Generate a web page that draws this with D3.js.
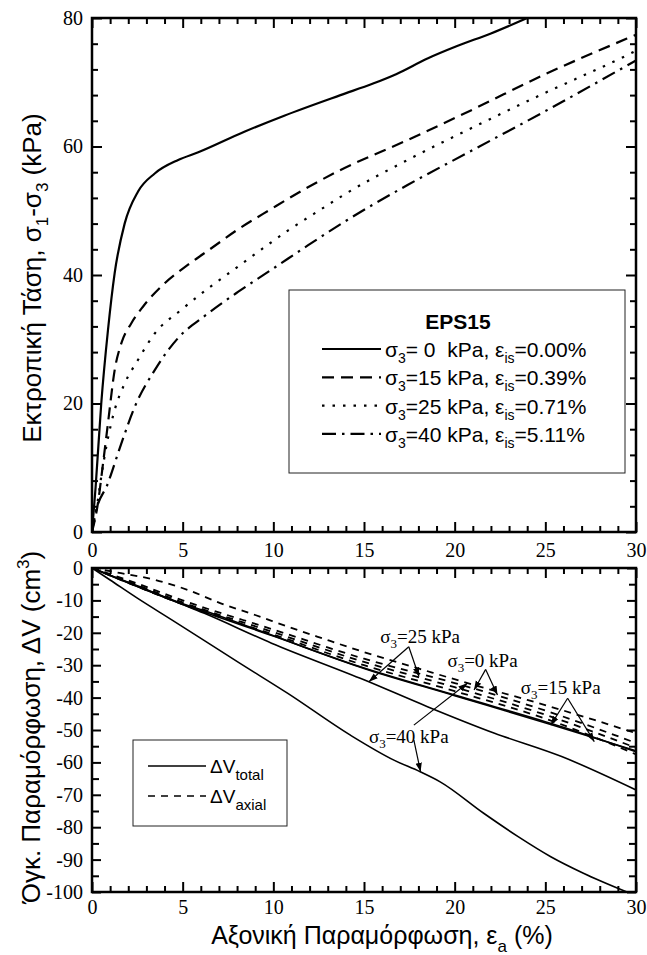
<!DOCTYPE html>
<html>
<head>
<meta charset="utf-8">
<script src="https://cdn.jsdelivr.net/npm/d3@7/dist/d3.min.js"></script>
<style>
  body { margin: 0; background: #fff; }
  svg { display: block; }
</style>
</head>
<body>
<div id="chart"></div>
<script>
// Δεδομένα - άνω διάγραμμα (τάση - παραμόρφωση)
let strain0  = [0, 0.2, 0.51, 0.88, 1.25, 1.8, 2.54, 3.46, 4.75, 5.86, 8.4, 10.6, 13.7, 15.5, 16.8, 18.5, 20.1, 22.0, 24.0]
let stress0  = [0, 7, 20, 31.4, 40.3, 48, 53, 55.8, 57.9, 59.1, 62.3, 64.8, 68.0, 69.8, 71.3, 73.7, 75.6, 77.6, 80]
let strain15 = [0, 0.3, 0.61, 0.88, 1.25, 1.62, 2.17, 2.82, 4.0, 5.3, 6.6, 8.0, 9.9, 11.75, 13.6, 17.4, 21.1, 24.8, 29.5, 30]
let stress15 = [0, 4, 10.7, 16.9, 25.2, 29.4, 32.5, 35.1, 38.7, 41.6, 44.2, 47.0, 50.3, 53.4, 56.2, 61.0, 65.9, 71.0, 76.8, 77.4]
let strain25 = [0, 0.3, 0.51, 0.79, 1.25, 1.8, 2.54, 3.46, 4.93, 6.4, 7.9, 9.35, 10.8, 12.67, 13.96, 17.4, 21.1, 24.8, 29.5, 30]
let stress25 = [0, 4.5, 8.6, 13.3, 19, 23.1, 26.8, 30.9, 34.6, 37.9, 41.0, 44.0, 46.9, 50.3, 52.6, 57.9, 63.1, 68.1, 74.2, 74.9]
let strain40 = [0, 0.15, 0.88, 1.62, 2.36, 3.46, 4.75, 6.2, 8.07, 10.1, 11.9, 14.1, 17.4, 21.1, 24.8, 29.5, 30]
let stress40 = [0, 2.4, 7.6, 13.8, 19.5, 25.2, 30.2, 33.6, 37.4, 41.2, 44.6, 48.6, 54.0, 59.6, 65.2, 72.6, 73.4]

// Δεδομένα - κάτω διάγραμμα (ογκομετρική παραμόρφωση)
let tot0x  = [0, 1, 2.5, 5, 6.2, 9.9, 14.8, 20.3, 25.9, 30]
let tot0y  = [0, -2.2, -5.5, -11, -13.2, -20.7, -30.5, -39.7, -49, -56.7]
let tot15x = [0, 1, 2.5, 5, 10, 15, 20, 25.3, 30]
let tot15y = [0, -2.3, -5.7, -11.2, -21, -31, -39.4, -48.3, -56.4]
let tot25x = [0, 1, 2.54, 6.2, 9.9, 15, 18.5, 22.2, 25.9, 30]
let tot25y = [0, -2.3, -5.8, -14, -23.2, -34.5, -42.8, -51, -58.2, -68.5]
let tot40x = [0, 1, 2.5, 4.4, 6.2, 8.1, 10.8, 14.25, 16.65, 18.1, 19.2, 21.6, 23.5, 25.3, 27.1, 29.5]
let tot40y = [0, -3.7, -9.3, -16.0, -22.4, -29.2, -38.7, -51.6, -59.3, -62.9, -66, -75.7, -82.9, -89.1, -94.2, -100]

let axTopX = [0, 1.6, 3.5, 5.3, 7.1, 9, 10.8, 12.7, 14.8, 18, 21, 24, 27.7, 30]
let axTopY = [0, -1.6, -3.7, -6.8, -10.9, -14.5, -18.1, -21.7, -25.6, -31, -36, -40.7, -46.9, -51]
let axX  = [0, 2, 5, 10, 15, 20, 25, 30]
let ax0y  = [0, -3.8, -10, -19, -28, -35.5, -44, -54]
let ax25y = [0, -4.2, -10.6, -19.8, -29, -36.8, -45.3, -55.5]
let ax40y = [0, -4.6, -11.2, -20.5, -30, -38, -46.5, -57.5]

// Ετικέτες
let xTicks = [0, 5, 10, 15, 20, 25, 30]
let stressTicks = [0, 20, 40, 60, 80]
let dvTicks = [0, -10, -20, -30, -40, -50, -60, -70, -80, -90, -100]
let legendRows = [
  { s: "= 0  kPa, ε", e: "=0.00%" },
  { s: "=15 kPa, ε", e: "=0.39%" },
  { s: "=25 kPa, ε", e: "=0.71%" },
  { s: "=40 kPa, ε", e: "=5.11%" }
]
// σημειώσεις: θέση κειμένου και βέλη σε μονάδες δεδομένων
let notes = [
  { t: "=25 kPa", x: 15.9, y: -23.1, from: [17.47, -24.3], to: [[15.27, -35.1], [18.03, -33.5]] },
  { t: "=0 kPa", x: 19.6, y: -30.6, from: [21.71, -31.3], to: [[21.07, -37.65], [22.36, -39.2]] },
  { t: "=15 kPa", x: 23.65, y: -39.0, from: [26.23, -40.2], to: [[25.3, -48.5], [27.7, -53.6]] },
  { t: "=40 kPa", x: 15.27, y: -54.1, from: [17.75, -48.5], to: [[20.7, -35.6]] },
  { t: "", x: 0, y: 0, from: [17.75, -53.1], to: [[18.12, -62.9]] }
]

let W = 647, H = 955
let left = 92, right = 636
let serif = "'Liberation Serif', 'Times New Roman', serif"
let sans = "'Liberation Sans', Arial, sans-serif"

let svg = d3.select("#chart").append("svg")
  .attr("width", W).attr("height", H)

let x = d3.scaleLinear().domain([0, 30]).range([left, right])
let yTop = d3.scaleLinear().domain([0, 80]).range([532, 18])
let yBot = d3.scaleLinear().domain([-100, 0]).range([892, 568])

let defs = svg.append("defs")
defs.append("marker")
  .attr("id", "arrow")
  .attr("viewBox", "0 0 10 10")
  .attr("refX", 10).attr("refY", 5)
  .attr("markerWidth", 9).attr("markerHeight", 9)
  .attr("markerUnits", "userSpaceOnUse")
  .attr("orient", "auto")
  .append("path").attr("d", "M0,1.5 L10,5 L0,8.5 Z").attr("fill", "#000")

defs.append("clipPath").attr("id", "clipTop").append("rect")
  .attr("x", left).attr("y", 18).attr("width", right - left).attr("height", 514)
defs.append("clipPath").attr("id", "clipBot").append("rect")
  .attr("x", left).attr("y", 568).attr("width", right - left).attr("height", 324)

// άξονες με εσωτερικές υποδιαιρέσεις
function drawAxes(y, top, bottom, major, minor, labelX, tickLen) {
  let minorX = d3.range(0, 31).filter(d => d % 5 !== 0)
  let g = svg.append("g")
  let style = sel => {
    sel.attr("font-family", serif).attr("font-size", 20)
    sel.select(".domain").remove()
    sel.selectAll("line").attr("stroke", "#000").attr("stroke-width", 2)
    sel.selectAll("text").style("font-family", serif).style("font-size", "20px").attr("fill", "#000")
  }
  // κάτω
  g.append("g").attr("transform", `translate(0,${bottom})`)
    .call(d3.axisBottom(x).tickValues(xTicks).tickSize(-10).tickPadding(labelX)
      .tickFormat(d => d)).call(style)
  g.append("g").attr("transform", `translate(0,${bottom})`)
    .call(d3.axisBottom(x).tickValues(minorX).tickSize(-6).tickFormat("")).call(style)
  // πάνω
  g.append("g").attr("transform", `translate(0,${top})`)
    .call(d3.axisTop(x).tickValues(xTicks).tickSize(-10).tickFormat("")).call(style)
  g.append("g").attr("transform", `translate(0,${top})`)
    .call(d3.axisTop(x).tickValues(minorX).tickSize(-6).tickFormat("")).call(style)
  // αριστερά
  g.append("g").attr("transform", `translate(${left},0)`)
    .call(d3.axisLeft(y).tickValues(major).tickSize(-tickLen[0]).tickPadding(9)
      .tickFormat(d => String(d))).call(style)
  g.append("g").attr("transform", `translate(${left},0)`)
    .call(d3.axisLeft(y).tickValues(minor).tickSize(-tickLen[1]).tickFormat("")).call(style)
  // δεξιά
  g.append("g").attr("transform", `translate(${right},0)`)
    .call(d3.axisRight(y).tickValues(major).tickSize(-tickLen[0]).tickFormat("")).call(style)
  g.append("g").attr("transform", `translate(${right},0)`)
    .call(d3.axisRight(y).tickValues(minor).tickSize(-tickLen[1]).tickFormat("")).call(style)
  g.append("rect")
    .attr("x", left).attr("y", top).attr("width", right - left).attr("height", bottom - top)
    .attr("fill", "none").attr("stroke", "#000").attr("stroke-width", 2.5)
}

drawAxes(yTop, 18, 532, stressTicks, d3.range(0, 81, 4).filter(d => d % 20 !== 0), 11, [10, 6])
drawAxes(yBot, 568, 892, dvTicks, d3.range(-95, 0, 10), 8, [9, 7])

// καμπύλες
let zip = (xs, ys) => xs.map((d, i) => [d, ys[i]])
let lineTop = d3.line().x(d => x(d[0])).y(d => yTop(d[1])).curve(d3.curveMonotoneX)
let lineBot = d3.line().x(d => x(d[0])).y(d => yBot(d[1])).curve(d3.curveMonotoneX)

let topSeries = [
  { d: zip(strain0, stress0), dash: null },
  { d: zip(strain15, stress15), dash: "12,7" },
  { d: zip(strain25, stress25), dash: "2.5,8" },
  { d: zip(strain40, stress40), dash: "14,6,2.5,6" }
]
svg.append("g").attr("clip-path", "url(#clipTop)")
  .selectAll("path").data(topSeries).enter().append("path")
  .attr("d", s => lineTop(s.d))
  .attr("fill", "none").attr("stroke", "#000").attr("stroke-width", 2.2)
  .attr("stroke-dasharray", s => s.dash)

let botSolid = [zip(tot0x, tot0y), zip(tot15x, tot15y), zip(tot25x, tot25y), zip(tot40x, tot40y)]
let botDash = [zip(axTopX, axTopY), zip(axX, ax0y), zip(axX, ax25y), zip(axX, ax40y)]
let gb = svg.append("g").attr("clip-path", "url(#clipBot)")
gb.selectAll(".tot").data(botSolid).enter().append("path")
  .attr("class", "tot")
  .attr("d", lineBot)
  .attr("fill", "none").attr("stroke", "#000").attr("stroke-width", 1.6)
gb.selectAll(".ax").data(botDash).enter().append("path")
  .attr("class", "ax")
  .attr("d", lineBot)
  .attr("fill", "none").attr("stroke", "#000").attr("stroke-width", 1.8)
  .attr("stroke-dasharray", "7,6")

// σημειώσεις στο κάτω διάγραμμα
notes.forEach(n => {
  if (n.t) {
    let t = svg.append("text")
      .attr("x", x(n.x)).attr("y", yBot(n.y))
      .attr("font-family", serif).attr("font-size", 19)
    t.append("tspan").text("σ")
    t.append("tspan").attr("font-size", 13).attr("dy", 5).text("3")
    t.append("tspan").attr("dy", -5).text(n.t)
  }
  n.to.forEach(p => {
    svg.append("line")
      .attr("x1", x(n.from[0])).attr("y1", yBot(n.from[1]))
      .attr("x2", x(p[0])).attr("y2", yBot(p[1]))
      .attr("stroke", "#000").attr("stroke-width", 1.2)
      .attr("marker-end", "url(#arrow)")
  })
})

// υπόμνημα άνω διαγράμματος
let lg = svg.append("g")
lg.append("rect").attr("x", 289).attr("y", 290).attr("width", 336).attr("height", 183)
  .attr("fill", "#fff").attr("stroke", "#222").attr("stroke-width", 1)
lg.append("text").attr("x", 458).attr("y", 329).attr("text-anchor", "middle")
  .attr("font-family", sans).attr("font-size", 21).attr("font-weight", "bold").text("EPS15")
legendRows.forEach((r, i) => {
  let yy = 357 + i * 28.3
  lg.append("line").attr("x1", 322).attr("x2", 381).attr("y1", yy - 8).attr("y2", yy - 8)
    .attr("stroke", "#000").attr("stroke-width", 2.2)
    .attr("stroke-dasharray", topSeries[i].dash)
  let t = lg.append("text").attr("x", 385).attr("y", yy)
    .attr("font-family", sans).attr("font-size", 21).style("white-space", "pre")
  t.append("tspan").text("σ")
  t.append("tspan").attr("font-size", 14).attr("dy", 6).text("3")
  t.append("tspan").attr("dy", -6).text(r.s)
  t.append("tspan").attr("font-size", 14).attr("dy", 6).text("is")
  t.append("tspan").attr("dy", -6).text(r.e)
})

// υπόμνημα κάτω διαγράμματος
let lg2 = svg.append("g")
lg2.append("rect").attr("x", 133).attr("y", 740).attr("width", 154).attr("height", 86)
  .attr("fill", "#fff").attr("stroke", "#222").attr("stroke-width", 1)
let lg2Rows = [{ sub: "total", dash: null }, { sub: "axial", dash: "7,6" }]
lg2Rows.forEach((r, i) => {
  let yy = 773 + i * 30
  lg2.append("line").attr("x1", 148).attr("x2", 206).attr("y1", yy - 7).attr("y2", yy - 7)
    .attr("stroke", "#000").attr("stroke-width", 1.6).attr("stroke-dasharray", r.dash)
  let t = lg2.append("text").attr("x", 210).attr("y", yy)
    .attr("font-family", sans).attr("font-size", 19)
  t.append("tspan").text("ΔV")
  t.append("tspan").attr("font-size", 15).attr("dy", 7).text(r.sub)
})

// τίτλοι αξόνων
let yt1 = svg.append("text").attr("transform", "translate(41,278) rotate(-90)")
  .attr("text-anchor", "middle").attr("font-family", sans).attr("font-size", 26)
yt1.append("tspan").text("Εκτροπική Τάση, σ")
yt1.append("tspan").attr("font-size", 17).attr("dy", 7).text("1")
yt1.append("tspan").attr("dy", -7).text("-σ")
yt1.append("tspan").attr("font-size", 17).attr("dy", 7).text("3")
yt1.append("tspan").attr("dy", -7).text(" (kPa)")

let yt2 = svg.append("text").attr("transform", "translate(40,727) rotate(-90)")
  .attr("text-anchor", "middle").attr("font-family", sans).attr("font-size", 26)
yt2.append("tspan").text("Όγκ. Παραμόρφωση, ΔV (cm")
yt2.append("tspan").attr("font-size", 17).attr("dy", -11).text("3")
yt2.append("tspan").attr("dy", 11).text(")")

let xt = svg.append("text").attr("x", 382).attr("y", 944)
  .attr("text-anchor", "middle").attr("font-family", sans).attr("font-size", 25)
xt.append("tspan").text("Αξονική Παραμόρφωση, ε")
xt.append("tspan").attr("font-size", 17).attr("dy", 8).text("a")
xt.append("tspan").attr("dy", -8).text(" (%)")
</script>
</body>
</html>
